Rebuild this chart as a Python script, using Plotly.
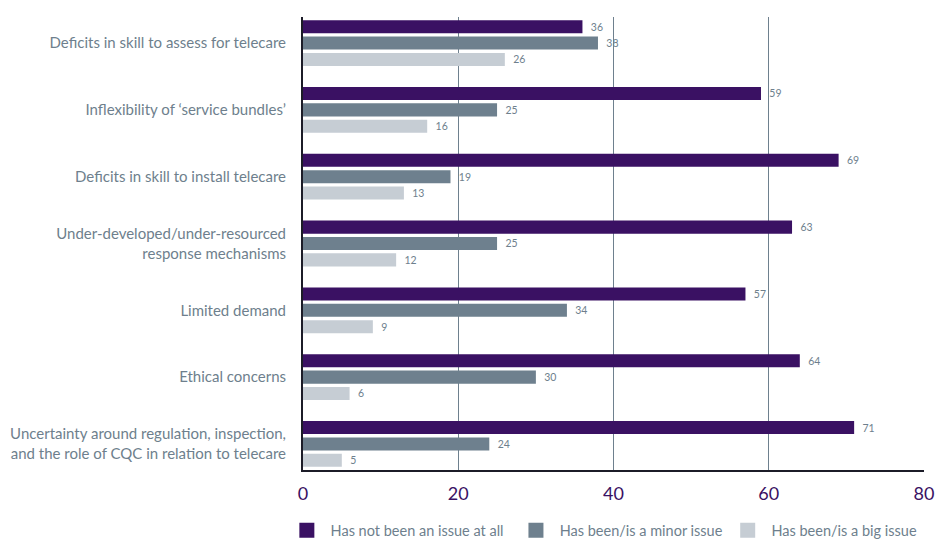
import plotly.graph_objects as go

categories = [
    "Deficits in skill to assess for telecare",
    "Inflexibility of ‘service bundles’",
    "Deficits in skill to install telecare",
    "Under-developed/under-resourced<br>response mechanisms",
    "Limited demand",
    "Ethical concerns",
    "Uncertainty around regulation, inspection,<br>and the role of CQC in relation to telecare",
]
series_names = ["Has not been an issue at all", "Has been/is a minor issue", "Has been/is a big issue"]
not_issue = [36, 59, 69, 63, 57, 64, 71]
minor_issue = [38, 25, 19, 25, 34, 30, 24]
big_issue = [26, 16, 13, 12, 9, 6, 5]
x_ticks = [0, 20, 40, 60, 80]

colors = ["#3a1163", "#6e808e", "#c6cdd4"]
label_grey = "#6e7f8d"
font_family = "Lato, 'Open Sans', sans-serif"

fig = go.Figure()
for name, vals, col in zip(series_names, [not_issue, minor_issue, big_issue], colors):
    fig.add_trace(go.Bar(
        y=categories, x=vals, name=name, orientation="h",
        marker=dict(color=col, line=dict(width=0)),
        text=["  " + str(v) for v in vals], textposition="outside",
        textfont=dict(size=12, color=label_grey, family=font_family),
        cliponaxis=False, showlegend=False,
    ))
# legend entries with larger square swatches
legend_pad = ["\u00a0\u00a0", "", ""]
for name, col, pad in zip(series_names, colors, legend_pad):
    fig.add_trace(go.Scatter(
        x=[None], y=[None], mode="markers", name="\u00a0" + name + pad,
        marker=dict(symbol="square", size=15, color=col),
        showlegend=True,
    ))

fig.update_layout(
    width=937, height=539,
    margin=dict(l=303, r=13, t=17, b=69, autoexpand=False),
    plot_bgcolor="white", paper_bgcolor="white",
    barmode="group", bargap=0.265, bargroupgap=0.2,
    font=dict(family=font_family, color=label_grey),
    showlegend=True,
    legend=dict(orientation="h", x=-0.026, xanchor="left", y=-0.133, yanchor="middle",
                font=dict(size=14.5, color=label_grey), traceorder="normal",
                itemsizing="trace"),
    xaxis=dict(range=[0, 80], tickvals=x_ticks, ticktext=[str(t) for t in x_ticks],
               showgrid=True, gridcolor="#6e808e", gridwidth=1,
               zeroline=False, showline=True, linecolor="#1c1c28", linewidth=2,
               tickfont=dict(size=18, color="#3a1163"), ticks="", ticklabelstandoff=6,
               automargin=False),
    yaxis=dict(autorange=False, range=[6.39, -0.39], showgrid=False, zeroline=False,
               showline=True, linecolor="#1c1c28", linewidth=2, ticks="",
               tickfont=dict(size=15, color=label_grey), ticklabelstandoff=12,
               automargin=False),
)

fig.write_html("out.html", config={"displayModeBar": False},
               post_script="document.body.style.margin='0';")
